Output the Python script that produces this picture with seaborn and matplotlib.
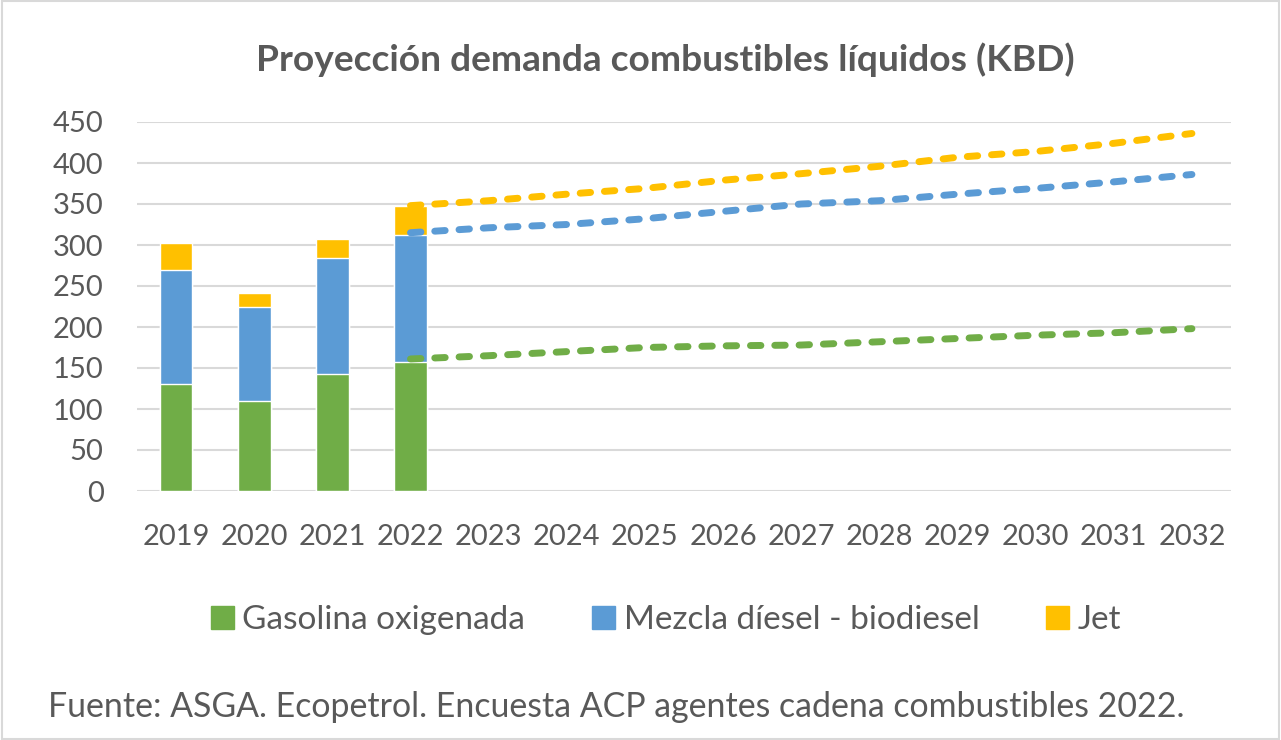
import matplotlib
matplotlib.use('Agg')
import matplotlib.pyplot as plt
from matplotlib.patches import Patch, Rectangle
import seaborn as sns
import pandas as pd

# categories
years = [str(y) for y in range(2019, 2033)]
hist_years = ['2019', '2020', '2021', '2022']

# historical demand (KBD) by fuel
gasolina = [130, 110, 143, 157]
diesel = [140, 115, 141, 155]
jet = [33, 16, 23, 36]

# projections 2022-2032 (cumulative levels as drawn)
proj_years = years[3:]
proj_gasolina = [161, 165, 170, 175, 177, 178, 182, 186, 190, 193, 198]
proj_gas_diesel = [315, 321, 325, 332, 341, 350, 354, 362, 369, 377, 386]
proj_total = [348, 354, 362, 369, 379, 387, 396, 407, 414, 424, 436]

labels = ['Gasolina oxigenada', 'Mezcla díesel - biodiesel', 'Jet']
colors = ['#70AD47', '#5B9BD5', '#FFC000']
text_color = '#595959'

sns.set_theme(style='white')
plt.rcParams['font.family'] = ['Lato', 'DejaVu Sans']


def main():
    df = pd.DataFrame({'year': hist_years, 'gas': gasolina, 'diesel': diesel, 'jet': jet})
    df['gd'] = df['gas'] + df['diesel']
    df['total'] = df['gd'] + df['jet']

    fig = plt.figure(figsize=(12.81, 7.40), dpi=100)
    ax = fig.add_axes([137 / 1281, 1 - 491 / 740, (1231 - 137) / 1281, (491 - 122) / 740])

    # stacked bars: draw tallest first
    for col, c in [('total', colors[2]), ('gd', colors[1]), ('gas', colors[0])]:
        sns.barplot(data=df, x='year', y=col, order=years, color=c, width=0.42,
                    saturation=1, ax=ax, zorder=2)

    # dashed projection lines
    xpos = [years.index(y) for y in proj_years]
    for vals, c in [(proj_gasolina, colors[0]), (proj_gas_diesel, colors[1]), (proj_total, colors[2])]:
        sns.lineplot(x=xpos, y=vals, color=c, lw=5, ax=ax, zorder=3,
                     linestyle=(0, (1.5, 2.0)), dash_capstyle='round')

    ax.set_xlim(-0.5, len(years) - 0.5)
    ax.set_ylim(0, 450)
    ax.set_yticks(range(0, 451, 50))
    ax.set_xticks(range(len(years)))
    ax.set_xticklabels(years)
    ax.set_xlabel('')
    ax.set_ylabel('')
    ax.yaxis.grid(True, color='#D9D9D9', lw=1.5)
    ax.set_axisbelow(True)
    for s in ax.spines.values():
        s.set_visible(False)
    ax.tick_params(axis='y', length=0, labelsize=21, colors=text_color, pad=24)
    ax.tick_params(axis='x', length=0, labelsize=21, colors=text_color, pad=24)

    fig.text(665 / 1281, 1 - 60 / 740, 'Proyección demanda combustibles líquidos (KBD)',
             ha='center', va='center', fontsize=26.7, fontweight='bold', color=text_color)

    handles = [Patch(color=c, label=l) for c, l in zip(colors, labels)]
    fig.legend(handles=handles, loc='center', bbox_to_anchor=(666 / 1281, 1 - 620 / 740),
               ncol=3, frameon=False, fontsize=24, handlelength=0.7, handleheight=0.7,
               handletextpad=0.25, columnspacing=2.0, labelcolor=text_color)

    fig.text(48 / 1281, 1 - 707 / 740,
             'Fuente: ASGA. Ecopetrol. Encuesta ACP agentes cadena combustibles 2022.',
             ha='left', va='center', fontsize=24.4, color=text_color)

    fig.patches.append(Rectangle((0.0015, 0.0015), 0.997, 0.997, transform=fig.transFigure,
                                 fill=False, edgecolor='#D9D9D9', lw=1.5))

    plt.savefig('out.png', dpi=100)


if __name__ == '__main__':
    main()
